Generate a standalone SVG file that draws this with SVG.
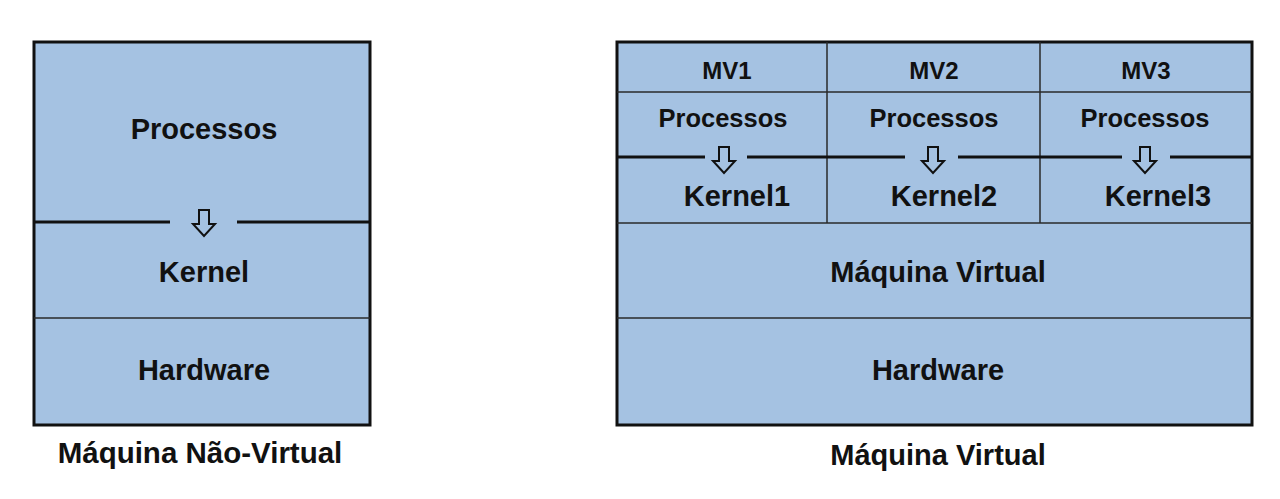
<svg xmlns="http://www.w3.org/2000/svg" width="1280" height="499" viewBox="0 0 1280 499">
<defs>
<style>
.box{fill:#A5C2E2;stroke:#111;stroke-width:3}
.thin{stroke:#2a2a2a;stroke-width:1.5;fill:none}
.thick{stroke:#111;stroke-width:3;fill:none}
.arr{fill:none;stroke:#111;stroke-width:2;stroke-linejoin:miter}
text{font-family:"Liberation Sans",Arial,sans-serif;font-weight:bold;fill:#111;text-anchor:middle}
.big{font-size:29px}
.mid{font-size:25.5px}
.sm{font-size:24px}
.cap{font-size:29.5px}
</style>
<polygon id="arrow" points="-5,0 5,0 5,14 11,14 0,26 -11,14 -5,14"/>
</defs>
<rect width="1280" height="499" fill="#ffffff"/>

<g id="left-machine">
<rect class="box" x="34" y="42" width="336" height="383"/>
<line class="thin" x1="34" y1="318" x2="370" y2="318"/>
</g>
<g id="left-processos"><text class="big" x="204" y="139">Processos</text></g>
<g id="left-kernel"><text class="big" x="204" y="282">Kernel</text></g>
<g id="left-hardware"><text class="big" x="204" y="380">Hardware</text></g>
<g id="left-caption"><text class="cap" x="200" y="463">Máquina Não-Virtual</text></g>

<g id="right-machine">
<rect class="box" x="617" y="42" width="635" height="383"/>
<line class="thin" x1="827" y1="42" x2="827" y2="223"/>
<line class="thin" x1="1040" y1="42" x2="1040" y2="223"/>
<line class="thin" x1="617" y1="92" x2="1252" y2="92"/>
<line class="thin" x1="617" y1="223" x2="1252" y2="223"/>
<line class="thin" x1="617" y1="318" x2="1252" y2="318"/>
</g>
<g id="mv1">
<text class="sm" x="727" y="79">MV1</text>
<text class="mid" x="723" y="127">Processos</text>
<text class="big" x="737" y="206">Kernel1</text>
</g>
<g id="mv2">
<text class="sm" x="934" y="79">MV2</text>
<text class="mid" x="934" y="127">Processos</text>
<text class="big" x="944" y="206">Kernel2</text>
</g>
<g id="mv3">
<text class="sm" x="1146" y="79">MV3</text>
<text class="mid" x="1145" y="127">Processos</text>
<text class="big" x="1158" y="206">Kernel3</text>
</g>
<g id="maquina-virtual"><text class="big" x="938" y="282">Máquina Virtual</text></g>
<g id="right-hardware"><text class="big" x="938" y="380">Hardware</text></g>
<g id="right-caption"><text class="big" x="938" y="465">Máquina Virtual</text></g>

<g id="connectors">
<line class="thick" x1="34" y1="222" x2="170" y2="222"/>
<line class="thick" x1="237" y1="222" x2="370" y2="222"/>
<use href="#arrow" class="arr" transform="translate(204,210)"/>
<line class="thick" x1="617" y1="157" x2="705" y2="157"/>
<line class="thick" x1="747" y1="157" x2="905" y2="157"/>
<line class="thick" x1="958" y1="157" x2="1122" y2="157"/>
<line class="thick" x1="1170" y1="157" x2="1252" y2="157"/>
<use href="#arrow" class="arr" transform="translate(724,147)"/>
<use href="#arrow" class="arr" transform="translate(933,147)"/>
<use href="#arrow" class="arr" transform="translate(1145,147)"/>
</g>
</svg>
